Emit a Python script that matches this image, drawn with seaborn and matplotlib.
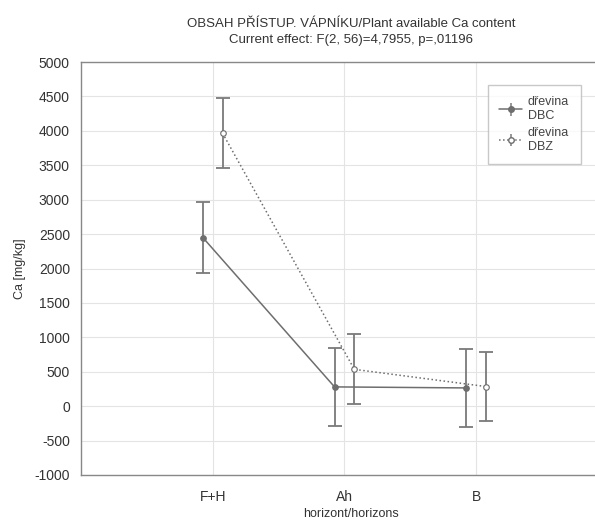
import matplotlib
matplotlib.use("Agg")
import matplotlib.pyplot as plt
import seaborn as sns
import pandas as pd
import numpy as np

categories = ["F+H", "Ah", "B"]
groups = ["dřevina\nDBC", "dřevina\nDBZ"]
means_dbc = [2450, 280, 265]
err_dbc = [515, 565, 565]
means_dbz = [3965, 535, 285]
err_dbz = [510, 510, 505]

df = pd.DataFrame({
    "horizon": categories * 2,
    "group": [groups[0]] * 3 + [groups[1]] * 3,
    "Ca": means_dbc + means_dbz,
})

sns.set_theme(style="whitegrid")
plt.rcParams["font.family"] = ["Liberation Sans", "DejaVu Sans"]
plt.rcParams["axes.unicode_minus"] = False

fig = plt.figure(figsize=(5.95, 5.22), dpi=100)
ax = fig.add_axes([81 / 595, 1 - 475 / 522, (621 - 81) / 595, (475 - 62) / 522])

gray = "#6e6e6e"
sns.pointplot(data=df, x="horizon", y="Ca", hue="group", order=categories,
              hue_order=groups, dodge=0.15, errorbar=None,
              palette=[gray, gray], markers=["o", "o"], linestyles=["-", ":"],
              linewidth=1.1, markersize=4, ax=ax, legend=False)

lines = [l for l in ax.lines if len(l.get_xdata()) == 3]
errs = [err_dbc, err_dbz]
means = [means_dbc, means_dbz]
styles = ["-", ":"]
faces = [gray, "white"]
handles = []
for i, ln in enumerate(lines[:2]):
    xs = np.asarray(ln.get_xdata(), dtype=float)
    ln.set_markerfacecolor(faces[i])
    ln.set_markeredgecolor(gray)
    ln.set_zorder(3)
    ax.errorbar(xs, means[i], yerr=errs[i], fmt="none", ecolor="#7a7a7a",
                elinewidth=1.3, capsize=5, capthick=1.3, zorder=2)
    h = ax.errorbar([], [], yerr=[], color=gray, ls=styles[i], marker="o",
                    markersize=4, mfc=faces[i], mec=gray, ecolor="#7a7a7a",
                    capsize=4, lw=1.1, label=groups[i])
    handles.append(h)

ax.set_xlim(-1, 3.1)
ax.set_ylim(-1000, 5000)
ax.set_yticks(np.arange(-1000, 5001, 500))
ax.grid(True, color="#e4e4e4", lw=0.8)
for s in ax.spines.values():
    s.set_color("#888888")
    s.set_linewidth(1.0)
ax.tick_params(axis="both", direction="in", length=3, color="#888888",
               labelsize=10, labelcolor="#333333")
ax.tick_params(axis="y", pad=8)
ax.tick_params(axis="x", pad=11)
ax.set_xlabel("horizont/horizons", fontsize=9, color="#333333", labelpad=3)
ax.set_ylabel("Ca [mg/kg]", fontsize=9, color="#333333", labelpad=6)
ax.set_title("OBSAH PŘÍSTUP. VÁPNÍKU/Plant available Ca content\n"
             "Current effect: F(2, 56)=4,7955, p=,01196",
             fontsize=9.5, color="#333333", pad=14, linespacing=1.35)

leg = fig.legend(handles=handles, labels=groups, loc="upper left",
                 bbox_to_anchor=(488 / 595, 1 - 85 / 522), borderaxespad=0,
                 fontsize=9, frameon=True, fancybox=False, edgecolor="#bbbbbb",
                 handlelength=1.8, handletextpad=0.5, borderpad=0.9,
                 labelspacing=0.4)
for t in leg.get_texts():
    t.set_color("#444444")

fig.savefig("out.png", dpi=100)
